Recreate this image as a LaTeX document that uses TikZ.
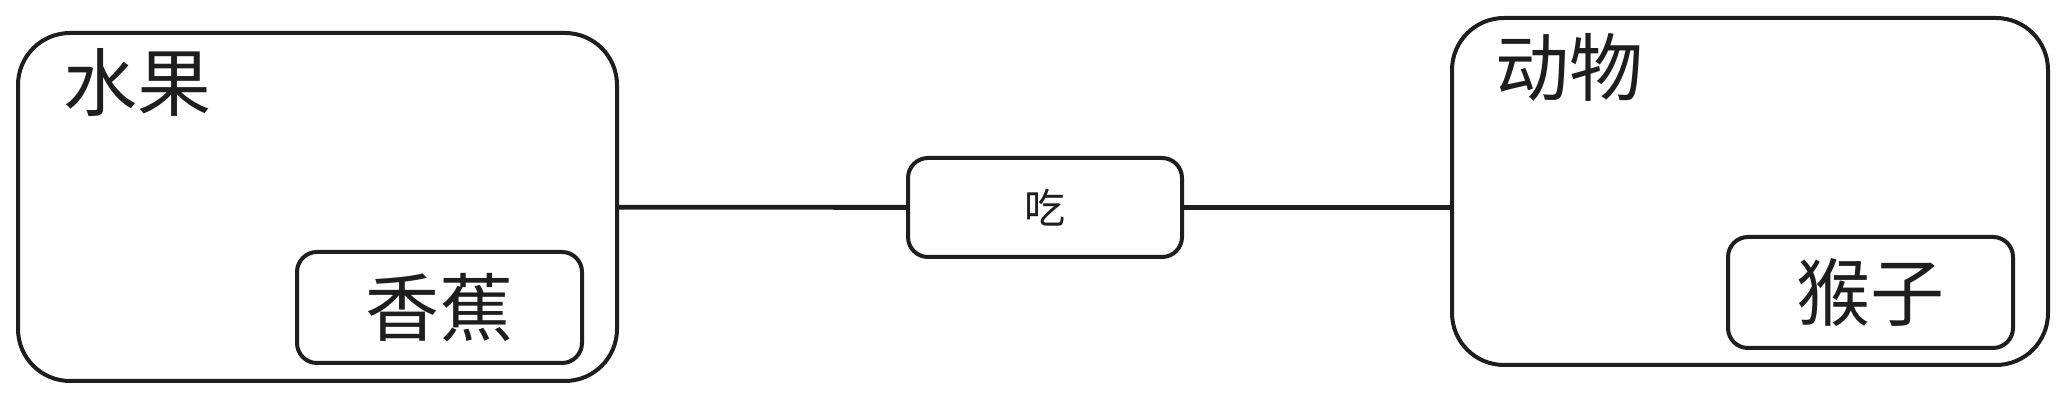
\documentclass[tikz,border=0pt]{standalone}
\usepackage{fontspec}
\usepackage{tikz}
\usetikzlibrary{positioning}
\newfontfamily\cjk{Noto Sans CJK SC}
\definecolor{inkgray}{HTML}{1E1E1E}
\tikzset{
  groupbox/.style={
    rounded corners=26pt,
    draw=inkgray,
    line width=2pt,
    minimum width=299.5pt,
    minimum height=174pt
  },
  itembox/.style={
    rounded corners=10pt,
    draw=inkgray,
    line width=2pt,
    minimum width=142.5pt,
    minimum height=55.5pt,
    text=inkgray,
    font=\cjk\fontsize{37}{40}\selectfont
  },
  verbbox/.style={
    rounded corners=10pt,
    draw=inkgray,
    line width=2pt,
    minimum width=137pt,
    minimum height=49.5pt,
    text=inkgray,
    font=\cjk\fontsize{20.5}{24}\selectfont
  },
  grouptitle/.style={
    inner sep=0pt,
    text=inkgray,
    font=\cjk\fontsize{37}{40}\selectfont
  },
  link/.style={
    draw=inkgray,
    line width=2.4pt
  }
}

\begin{document}
\begin{tikzpicture}[x=0.5pt, y=-0.5pt]
\useasboundingbox (0,0) rectangle (2067,400);
\node[groupbox] (fruit) at (317.5,207) {};
\node[grouptitle] (fruittitle) at (137.5,82.5) {水果};
\node[itembox] (banana) at (439.5,307.5) {香蕉};
\node[verbbox] (eat) at (1045,207.5) {吃};
\node[groupbox, minimum width=298pt, minimum height=173.5pt] (animal) at (1750,191.5) {};
\node[grouptitle] (animaltitle) at (1569,67.5) {动物};
\node[itembox] (monkey) at (1870.5,292.5) {猴子};
\draw[link] (fruit) -- (eat);
\draw[link] (eat.east) -- (eat.east -| animal.west);
\end{tikzpicture}
\end{document}
